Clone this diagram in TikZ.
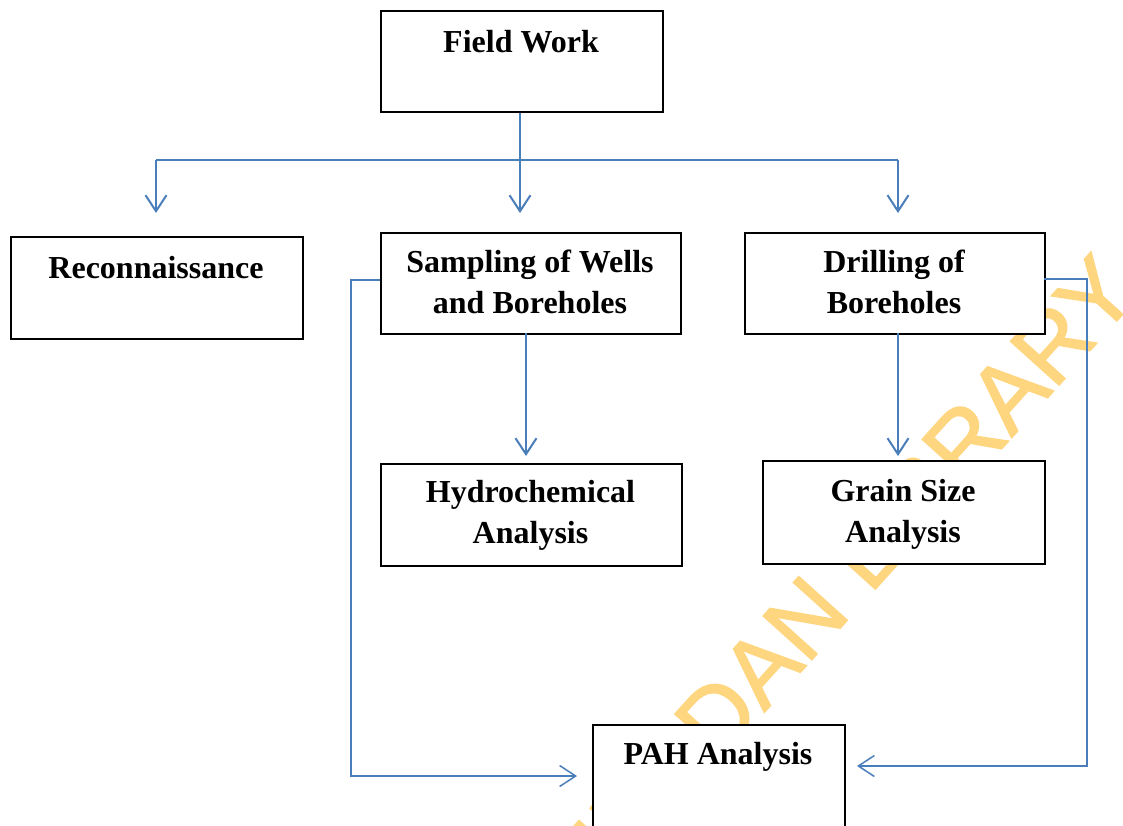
\documentclass[tikz,border=0pt]{standalone}
\usepackage{fontspec}
\setmainfont{Liberation Serif}
\newfontfamily\wmfont[BoldFont=Liberation Sans, BoldFeatures={FakeBold=1.5}]{Liberation Sans}
\usetikzlibrary{arrows.meta,calc}
\definecolor{connblue}{RGB}{74,126,187}
\definecolor{wmyellow}{RGB}{255,214,128}
\begin{document}
\begin{tikzpicture}[x=1pt,y=-1pt,
  box/.style={draw=black, line width=2pt, fill=white, inner sep=0pt, anchor=north west},
  lbl/.style={font=\fontsize{32}{41}\selectfont\bfseries, inner sep=0pt, anchor=base},
  conn/.style={draw=connblue, line width=2pt},
  thinconn/.style={draw=connblue, line width=1.5pt},
  arr/.style={-{Straight Barb[length=16pt,width=21pt]}},
  wm/.style={font=\fontsize{95}{95}\selectfont\wmfont\bfseries, text=wmyellow, inner sep=0pt}]
\useasboundingbox (0,0) rectangle (1123,825);
\clip (0,0) rectangle (1123,825);
\fill[white] (0,0) rectangle (1123,825);

% watermark
\begin{scope}[shift={(870,595)}, rotate=48, transform shape]
  \node[wm, anchor=base west] (wm2) at (0pt,0pt) {LIBRARY};
  \node[wm, anchor=base east] (wm1) at (-26pt,0pt) {UNIVERSITY OF IBADAN};
\end{scope}

% boxes
\node[box, minimum width=282pt, minimum height=101pt] (fw) at (380,10) {};
\node[box, minimum width=292pt, minimum height=102pt] (rec) at (10,236) {};
\node[box, minimum width=300pt, minimum height=101pt] (samp) at (380,232) {};
\node[box, minimum width=300pt, minimum height=101pt] (drill) at (744,232) {};
\node[box, minimum width=301pt, minimum height=102pt] (hydro) at (380,463) {};
\node[box, minimum width=282pt, minimum height=103pt] (grain) at (762,460) {};
\node[box, minimum width=252pt, minimum height=150pt] (pah) at (592,724) {};

% labels
\node[lbl] (fwt) at (521,52) {Field Work};
\node[lbl] (rect) at (156,278) {Reconnaissance};
\node[lbl] (sampt1) at (530,272) {Sampling of Wells};
\node[lbl] (sampt2) at (530,313) {and Boreholes};
\node[lbl] (drillt1) at (894,272) {Drilling of};
\node[lbl] (drillt2) at (894,313) {Boreholes};
\node[lbl] (hydrot1) at (530.5,502) {Hydrochemical};
\node[lbl] (hydrot2) at (530.5,543) {Analysis};
\node[lbl] (graint1) at (903,501) {Grain Size};
\node[lbl] (graint2) at (903,542) {Analysis};
\node[lbl] (paht) at (718,764) {PAH Analysis};

% connector points
\coordinate (busm) at (520,160);
\coordinate (busl) at (156,160);
\coordinate (busr) at (898,160);
\coordinate (tl) at (156,213);
\coordinate (tm) at (520,213);
\coordinate (tr) at (898,213);
\coordinate (sa) at (526,333);
\coordinate (th) at (526,456);
\coordinate (da) at (898,333);
\coordinate (tg) at (898,456);
\coordinate (sl) at (380,280);
\coordinate (slc) at (351,280);
\coordinate (slb) at (351,776);
\coordinate (tpl) at (577,776);
\coordinate (dr) at (1044,279);
\coordinate (drc) at (1087,279);
\coordinate (drb) at (1087,766);
\coordinate (tpr) at (857,766);

% connectors
\draw[conn] (fw.south -| busm) -- (busm);
\draw[conn] (busl) -- (busr);
\draw[conn, arr] (busl) -- (tl);
\draw[conn, arr] (busm) -- (tm);
\draw[conn, arr] (busr) -- (tr);
\draw[conn, arr] (sa) -- (th);
\draw[conn, arr] (da) -- (tg);
\draw[thinconn, arr] (sl) -- (slc) -- (slb) -- (tpl);
\draw[thinconn, arr] (dr) -- (drc) -- (drb) -- (tpr);
\end{tikzpicture}
\end{document}
